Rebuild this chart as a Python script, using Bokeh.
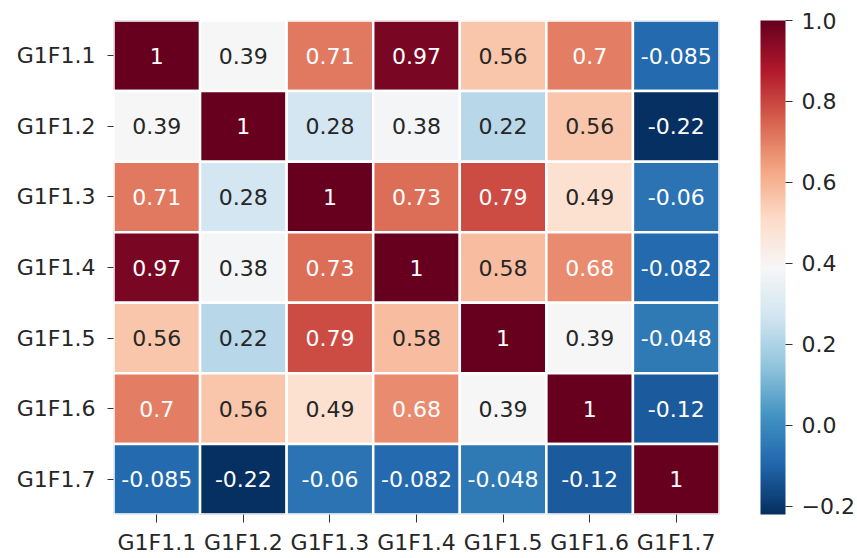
from bokeh.plotting import figure
from bokeh.models import (ColumnDataSource, FactorRange, LinearColorMapper, ColorBar,
                          FixedTicker, CustomJSTickFormatter)
from bokeh.core.properties import value
from bokeh.embed import file_html
from bokeh.resources import INLINE

labels = ["G1F1.1", "G1F1.2", "G1F1.3", "G1F1.4", "G1F1.5", "G1F1.6", "G1F1.7"]
row_1 = [1, 0.39, 0.71, 0.97, 0.56, 0.7, -0.085]
row_2 = [0.39, 1, 0.28, 0.38, 0.22, 0.56, -0.22]
row_3 = [0.71, 0.28, 1, 0.73, 0.79, 0.49, -0.06]
row_4 = [0.97, 0.38, 0.73, 1, 0.58, 0.68, -0.082]
row_5 = [0.56, 0.22, 0.79, 0.58, 1, 0.39, -0.048]
row_6 = [0.7, 0.56, 0.49, 0.68, 0.39, 1, -0.12]
row_7 = [-0.085, -0.22, -0.06, -0.082, -0.048, -0.12, 1]
rows = [row_1, row_2, row_3, row_4, row_5, row_6, row_7]
vmin, vmax = -0.22, 1.0
cbar_ticks = [-0.2, 0.0, 0.2, 0.4, 0.6, 0.8, 1.0]

# RdBu_r colormap (ColorBrewer anchor colours, low -> high)
anchors = ["#053061", "#2166ac", "#4393c3", "#92c5de", "#d1e5f0", "#f7f7f7",
           "#fddbc7", "#f4a582", "#d6604d", "#b2182b", "#67001f"]


def hex2rgb(h):
    return tuple(int(h[i:i + 2], 16) / 255 for i in (1, 3, 5))


anc = [hex2rgb(h) for h in anchors]
N = 256
palette_rgb = []
for i in range(N):
    t = i / (N - 1) * (len(anc) - 1)
    k = min(int(t), len(anc) - 2)
    f = t - k
    c = tuple(anc[k][j] * (1 - f) + anc[k + 1][j] * f for j in range(3))
    palette_rgb.append(c)
palette = ["#%02x%02x%02x" % tuple(int(round(v * 255)) for v in c) for c in palette_rgb]


def lum(c):
    out = []
    for v in c:
        out.append(v / 12.92 if v <= 0.03928 else ((v + 0.055) / 1.055) ** 2.4)
    return 0.2126 * out[0] + 0.7152 * out[1] + 0.0722 * out[2]


xs, ys, vals, txts, tcols = [], [], [], [], []
for r, row in enumerate(rows):
    for c, v in enumerate(row):
        xs.append(labels[c])
        ys.append(labels[r])
        vals.append(v)
        txts.append(format(v, ".2g"))
        idx = int(round((v - vmin) / (vmax - vmin) * (N - 1)))
        idx = max(0, min(N - 1, idx))
        tcols.append("#262626" if lum(palette_rgb[idx]) > 0.408 else "#ffffff")

src = ColumnDataSource(dict(x=xs, y=ys, v=vals, t=txts, tc=tcols))
mapper = LinearColorMapper(palette=palette, low=vmin, high=vmax)

p = figure(width=857, height=558, x_range=FactorRange(*labels),
           y_range=FactorRange(*reversed(labels)),
           output_backend="svg", toolbar_location=None,
           min_border_left=113, min_border_top=20, min_border_bottom=44,
           min_border_right=135)
p.outline_line_color = None
p.grid.grid_line_color = None
p.background_fill_color = "white"

p.rect(x="x", y="y", width=1, height=1, source=src,
       fill_color={"field": "v", "transform": mapper},
       line_color="white", line_width=2.5)
p.text(x="x", y="y", text="t", source=src, text_color="tc",
       text_align="center", text_baseline="middle",
       text_font=value("DejaVu Sans"), text_font_size="22px")

for ax in (p.xaxis[0], p.yaxis[0]):
    ax.axis_line_color = None
    ax.major_tick_in = 0
    ax.major_tick_line_color = "#333333"
    ax.minor_tick_line_color = None
    ax.major_label_text_font = "DejaVu Sans"
    ax.major_label_text_font_size = "22px"
    ax.major_label_text_color = "#262626"
p.yaxis.major_tick_out = 6
p.xaxis.major_tick_out = 8
p.yaxis.major_label_standoff = 12
p.xaxis.major_label_standoff = 7

cb = ColorBar(color_mapper=mapper, width=25, height=494,
              ticker=FixedTicker(ticks=cbar_ticks),
              formatter=CustomJSTickFormatter(code="return tick.toFixed(1).replace('-', '\\u2212')"),
              major_label_text_font="DejaVu Sans", major_label_text_font_size="22px",
              major_label_text_color="#262626",
              major_tick_in=0, major_tick_out=7, major_tick_line_color="#333333",
              minor_tick_line_color=None, bar_line_color=None,
              label_standoff=9, padding=0, margin=0,
              location=(41, 0), background_fill_color=None, border_line_color=None)
p.add_layout(cb, "right")

open("out.html", "w").write(file_html(p, INLINE))
